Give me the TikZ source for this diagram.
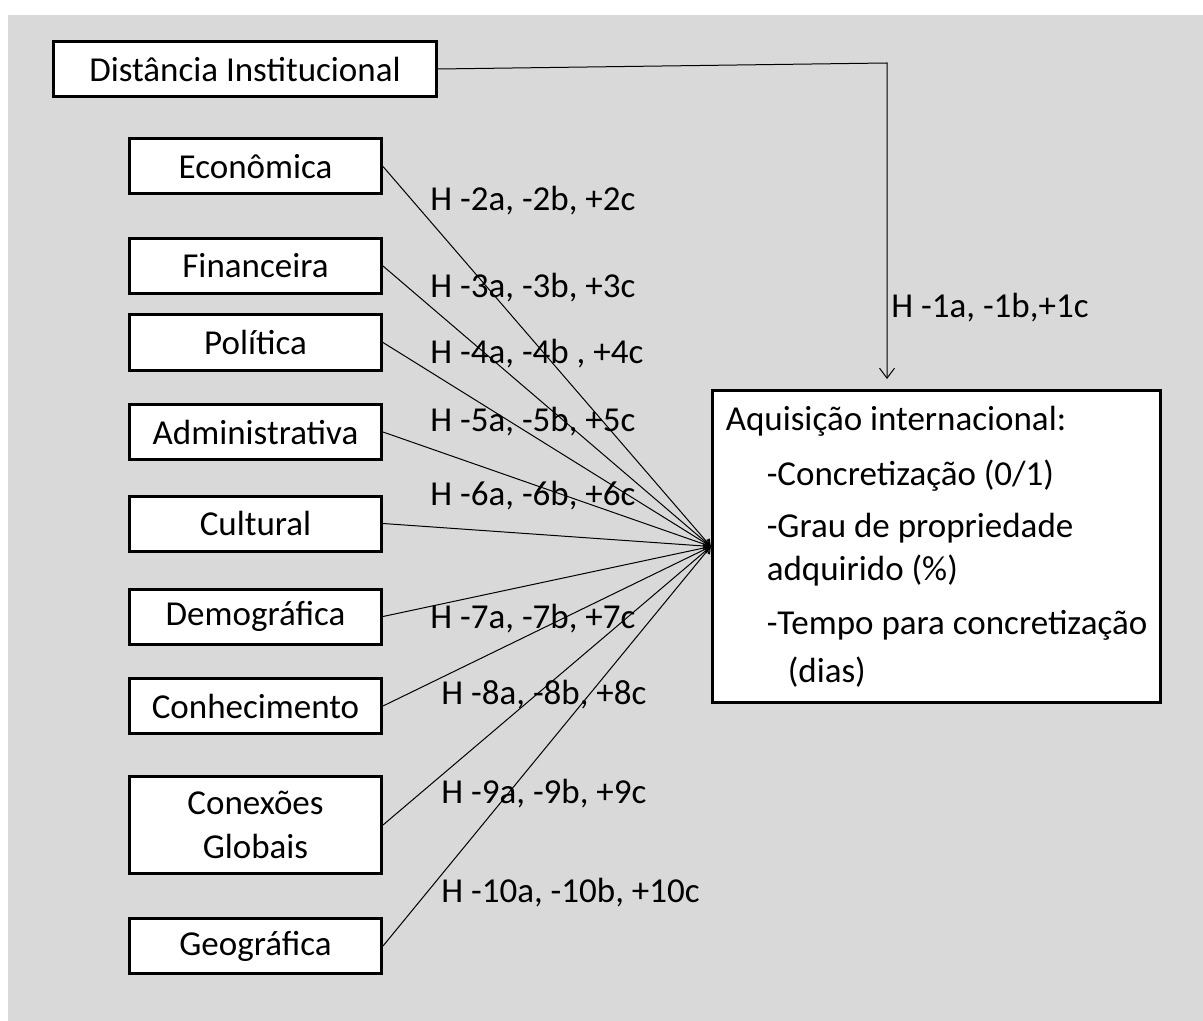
\documentclass[tikz,border=0pt]{standalone}
\usepackage{fontspec}
\setmainfont{Carlito}
\usetikzlibrary{arrows.meta}
\definecolor{panel}{HTML}{D9D9D9}

\begin{document}
\begin{tikzpicture}[x=0.5pt,y=-0.5pt,
    box/.style={draw,line width=1.5pt,fill=white,minimum width=126pt,
      minimum height=27.5pt,inner sep=2pt,align=center,
      font=\fontsize{17.5}{22}\selectfont},
    hyp/.style={anchor=base west,inner sep=0pt,font=\fontsize{17.5}{21}\selectfont},
    link/.style={line width=0.5pt,-{Straight Barb[length=3pt,width=4pt]}}
  ]
  \useasboundingbox (0,0) rectangle (1203,1021);
  \fill[panel] (8,15) rectangle (1203,1021);

  % dimensions
  \node[box,minimum width=191.5pt] (inst) at (245,69) {Distância Institucional};
  \node[box] (econ)  at (255.5,166.5) {Econômica};
  \node[box] (finan) at (255.5,266)   {Financeira};
  \node[box] (pol)   at (255.5,342.5) {Política};
  \node[box] (adm)   at (255.5,432)   {Administrativa};
  \node[box] (cult)  at (255.5,523.5) {Cultural};
  \node[box] (demo)  at (255.5,616.5) {Demográfica};
  \node[box] (conh)  at (255.5,706)   {Conhecimento};
  \node[box,minimum height=48.5pt] (conex) at (255.5,825) {Conexões\\Globais};
  \node[box] (geo)   at (255.5,946)   {Geográfica};

  % outcome
  \node[box,minimum width=224pt,minimum height=156pt,
    align=left,inner xsep=6.75pt,font=\fontsize{17.5}{26}\selectfont] (aq) at (936.5,546.5)
    {Aquisição internacional:\\[1.5pt]
     \hspace*{20.5pt}-Concretização (0/1)\\
     \hspace*{20.5pt}-Grau de propriedade\\[-4.5pt]
     \hspace*{20.5pt}adquirido (\%)\\[1pt]
     \hspace*{20.5pt}-Tempo para concretização\\[-2pt]
     \hspace*{31pt}(dias)};

  \coordinate (bend) at (887,63);
  \coordinate (tip) at (887,379);
  \draw[line width=0.5pt,-{Straight Barb[length=5pt,width=7.5pt]}]
    (inst.east) -- (bend) -- (tip);

  \foreach \src in {econ,finan,pol,adm,cult,demo,conh,conex,geo}
    \draw[link] (\src.east) -- (aq.west);

  % hypotheses
  \node[hyp] (h1)  at (891,318) {H -1a, -1b,+1c};
  \node[hyp] (h2)  at (430,211) {H -2a, -2b, +2c};
  \node[hyp] (h3)  at (430,298) {H -3a, -3b, +3c};
  \node[hyp] (h4)  at (430,364) {H -4a, -4b , +4c};
  \node[hyp] (h5)  at (430,431) {H -5a, -5b, +5c};
  \node[hyp] (h6)  at (430,505) {H -6a, -6b, +6c};
  \node[hyp] (h7)  at (430,628) {H -7a, -7b, +7c};
  \node[hyp] (h8)  at (441,704) {H -8a, -8b, +8c};
  \node[hyp] (h9)  at (441,803) {H -9a, -9b, +9c};
  \node[hyp] (h10) at (441,902) {H -10a, -10b, +10c};
\end{tikzpicture}
\end{document}
